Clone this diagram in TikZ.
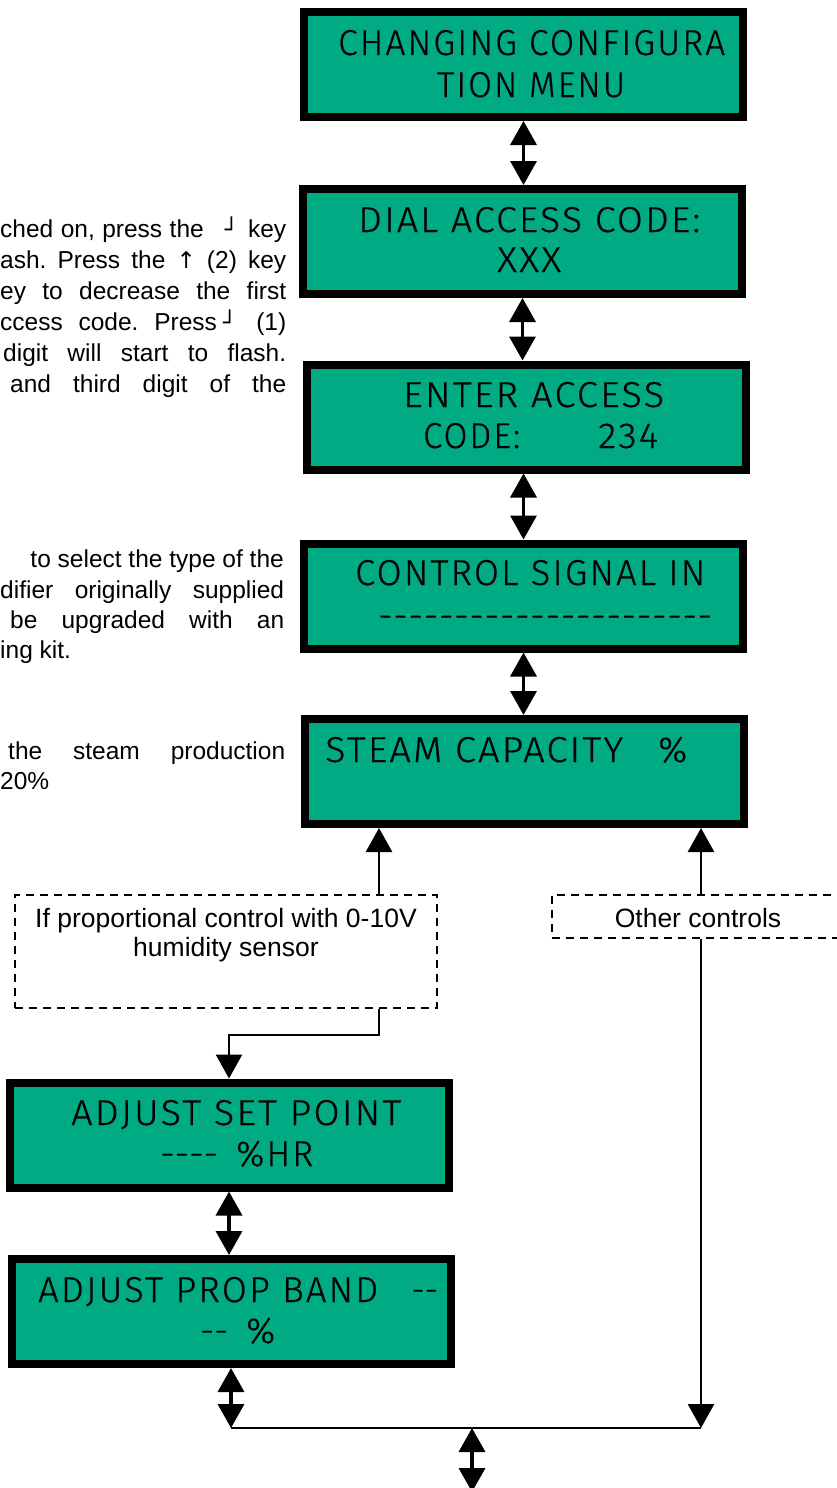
\documentclass[tikz,border=0pt]{standalone}
\usepackage{fontspec}
\usepackage{graphicx}
\setmainfont{Liberation Sans}
\newfontfamily\lcd{Fira Sans Light}[LetterSpace=6,FakeBold=0.5]
\newfontfamily\djv{DejaVu Sans}
\usetikzlibrary{arrows.meta,calc}
\definecolor{lcdgreen}{RGB}{0,170,130}
\newcommand{\retkey}{{\djv\fontsize{22}{22}\selectfont ┘}}
\newcommand{\upkey}{{\djv\fontsize{23}{23}\selectfont ↑}}
\newcommand{\fitw}[2]{\resizebox{#1}{\height}{#2}}
\begin{document}
\begin{tikzpicture}[x=1pt,y=-1pt,
 lcdbox/.style={draw=black, line width=8pt, fill=lcdgreen, minimum width=439pt, minimum height=105pt, inner sep=0pt},
 lcdtext/.style={inner sep=0pt, anchor=base west, font=\lcd\fontsize{36}{42}\selectfont},
 note/.style={inner sep=0pt, font=\fontsize{24.5}{31}\selectfont},
 dnote/.style={inner sep=0pt, anchor=base, font=\fontsize{26.5}{31}\selectfont},
 dbox/.style={draw=black, line width=1.5pt, dash pattern=on 8pt off 6pt, inner sep=0pt},
 dblarrow/.style={line width=3.5pt, {Triangle[width=26pt,length=24pt]}-{Triangle[width=26pt,length=24pt]}},
 sarrow/.style={line width=2.5pt, -{Triangle[width=26pt,length=24pt]}},
 conn/.style={line width=2pt}
]
\clip (0,0) rectangle (837,1488);

% LCD boxes
\node[lcdbox] (b1) at (523.5,64.5) {};
\node[lcdbox] (b2) at (522.5,241.5) {};
\node[lcdbox] (b3) at (526.5,417) {};
\node[lcdbox] (b4) at (523.5,596) {};
\node[lcdbox] (b5) at (524.5,771.5) {};
\node[lcdbox] (b6) at (229,1135) {};
\node[lcdbox] (b7) at (231,1311.5) {};

% LCD texts
\node[lcdtext] (t1a) at (338,55) {\fitw{387pt}{CHANGING CONFIGURA}};
\node[lcdtext] (t1b) at (437,97) {\fitw{188pt}{TION MENU}};
\node[lcdtext] (t2a) at (358,232) {\fitw{342pt}{DIAL ACCESS CODE:}};
\node[lcdtext] (t2b) at (497,272) {\fitw{64pt}{XXX}};
\node[lcdtext] (t3a) at (403,407) {\fitw{261pt}{ENTER ACCESS}};
\node[lcdtext] (t3b) at (423,448) {\fitw{97pt}{CODE:}\hspace{78pt}\fitw{60pt}{234}};
\node[lcdtext] (t4a) at (355,585) {\fitw{350pt}{CONTROL SIGNAL IN}};
\node[lcdtext] (t4b) at (378,628) {\makebox[334pt]{-\hfill-\hfill-\hfill-\hfill-\hfill-\hfill-\hfill-\hfill-\hfill-\hfill-\hfill-\hfill-\hfill-\hfill-\hfill-\hfill-\hfill-\hfill-\hfill-\hfill-\hfill-}};
\node[lcdtext] (t5a) at (325,762) {\fitw{298pt}{STEAM CAPACITY}\hspace{35pt}\fitw{29pt}{\%}};
\node[lcdtext] (t6a) at (71,1125) {\fitw{330pt}{ADJUST SET POINT}};
\node[lcdtext] (t6b) at (160,1166) {\fitw{58pt}{-\kern0pt-\kern0pt-\kern0pt-}\hspace{18pt}\fitw{77pt}{\%HR}};
\node[lcdtext] (t7a) at (38,1302) {\fitw{340pt}{ADJUST PROP BAND}\hspace{33pt}\fitw{27pt}{-\kern0pt-}};
\node[lcdtext] (t7b) at (200,1343) {\fitw{28pt}{-\kern0pt-}\hspace{18pt}\fitw{29pt}{\%}};

% side notes (cut at the left edge)
\node[note, anchor=base west] (n1) at (0,237) {\hbox to 286pt{ched\hfill on,\hfill press\hfill the\hspace{21pt}\retkey\hspace{10pt}key}};
\node[note, anchor=base west] (n2) at (0,268) {\hbox to 286pt{ash.\hfill Press\hfill the\hfill\upkey\hfill (2)\hfill key}};
\node[note, anchor=base west] (n3) at (0,299) {\hbox to 286pt{ey\hfill to\hfill decrease\hfill the\hfill first}};
\node[note, anchor=base west] (n4) at (0,330) {\hbox to 286pt{ccess\hfill code.\hfill Press\hspace{6pt}\retkey\hspace{20pt}(1)}};
\node[note, anchor=base west] (n5) at (3,361) {\hbox to 283pt{digit\hfill will\hfill start\hfill to\hfill flash.}};
\node[note, anchor=base west] (n6) at (10,392) {\hbox to 276pt{and\hfill third\hfill digit\hfill of\hfill the}};
\node[note, anchor=base east] (n7) at (284,567) {to select the type of the};
\node[note, anchor=base west] (n8) at (0,598) {\hbox to 284pt{difier\hfill originally\hfill supplied}};
\node[note, anchor=base west] (n9) at (10,628) {\hbox to 274pt{be\hfill upgraded\hfill with\hfill an}};
\node[note, anchor=base west] (n10) at (0,658) {ing kit.};
\node[note, anchor=base west] (n11) at (8,759) {\hbox to 277pt{the\hfill steam\hfill production}};
\node[note, anchor=base west] (n12) at (0,789) {20\%};

% dashed condition boxes
\node[dbox, minimum width=422pt, minimum height=113pt] (d1) at (226,951.5) {};
\node[dbox, minimum width=293pt, minimum height=43pt] (d2) at (698.5,916.5) {};
\node[dnote] (d1a) at (226,927) {If proportional control with 0-10V};
\node[dnote] (d1b) at (226,956) {humidity sensor};
\node[dnote] (d2a) at (698,927) {Other controls};

% helper coordinates
\coordinate (x379) at (379,0);
\coordinate (jl) at (231,1428);
\coordinate (jr) at (701,1428);
\coordinate (jb) at (472,1428);
\coordinate (bot) at (472,1492);

% connectors
\draw[dblarrow] (b1.south) -- (b1.south |- b2.north);
\draw[dblarrow] (b2.south) -- (b2.south |- b3.north);
\draw[dblarrow] (b4.north |- b3.south) -- (b4.north);
\draw[dblarrow] (b4.south) -- (b4.south |- b5.north);
\draw[sarrow] (d1.north -| x379) -- (b5.south -| x379);
\draw[sarrow] (d2.north -| jr) -- (b5.south -| jr);
\draw[sarrow] (d1.south -| x379) -- ++(0,26) -| (b6.north);
\draw[dblarrow] (b6.south) -- (b6.south |- b7.north);
\draw[dblarrow] (b7.south) -- (jl);
\draw[conn] (jl) -- (jr);
\draw[sarrow] (d2.south -| jr) -- (jr);
\draw[dblarrow] (jb) -- (bot);
\end{tikzpicture}
\end{document}
